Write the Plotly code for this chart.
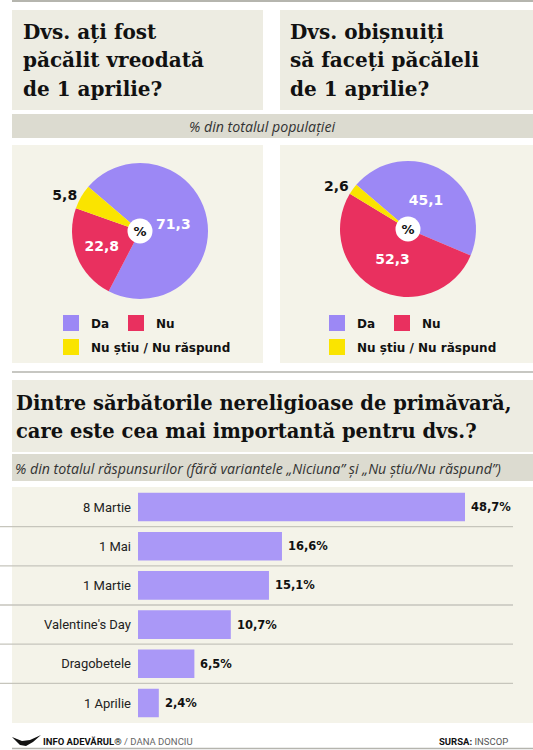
import plotly.graph_objects as go

W, H = 533, 750

# ---------------- data ----------------
pie_labels = ["Da", "Nu", "Nu știu / Nu răspund"]
pie_colors = ["#9c88f5", "#e9305f", "#fae400"]
pie1_values = [71.3, 22.8, 5.8]
pie2_values = [45.1, 52.3, 2.6]
pie1_title = ["Dvs. ați fost", "păcălit vreodată", "de 1 aprilie?"]
pie2_title = ["Dvs. obișnuiți", "să faceți păcăleli", "de 1 aprilie?"]
pie_band_text = "% din totalul populației"

bar_categories = ["8 Martie", "1 Mai", "1 Martie", "Valentine's Day", "Dragobetele", "1 Aprilie"]
bar_values = [48.7, 16.6, 15.1, 10.7, 6.5, 2.4]
bar_title = ["Dintre sărbătorile nereligioase de primăvară,",
             "care este cea mai importantă pentru dvs.?"]
bar_subtitle = "% din totalul răspunsurilor (fără variantele „Niciuna” și „Nu știu/Nu răspund”)"
footer_left = ("INFO ADEVĂRUL®", "/ DANA DONCIU")
footer_right = ("SURSA:", "INSCOP")


# ---------------- helpers ----------------
def px(x):
    return x / W


def py(y):
    return 1 - y / H


def fmt(v):
    return f"{v:.1f}".replace(".", ",")


TITLE_FONT = dict(family="DejaVu Serif", size=20, color="#111111", weight="bold")
BAR_TITLE_FONT = dict(family="DejaVu Serif", size=19.5, color="#111111", weight="bold")
BOLD_SANS = "DejaVu Sans"
ITALIC_FONT = dict(family="Open Sans", size=14.2, color="#333333", style="italic")

fig = go.Figure()

# ---------------- pies ----------------
R = 68
CR = 12.5
pies = [(pie1_values, 140, 231), (pie2_values, 408, 229)]
for values, cx, cy in pies:
    fig.add_trace(go.Pie(
        labels=pie_labels, values=values, sort=False,
        direction="clockwise", rotation=-49.5,
        marker=dict(colors=pie_colors, line=dict(width=0)),
        text=[fmt(v) for v in values], texttemplate="%{text}",
        textposition=["inside", "inside", "outside"],
        insidetextorientation="horizontal",
        insidetextfont=dict(family=BOLD_SANS, size=14, color="white", weight="bold"),
        outsidetextfont=dict(family=BOLD_SANS, size=14, color="#111111", weight="bold"),
        domain=dict(x=[px(cx - R), px(cx + R)], y=[py(cy + R), py(cy - R)]),
        showlegend=False, hoverinfo="skip",
    ))
    fig.add_trace(go.Pie(
        labels=["%"], values=[1], sort=False,
        marker=dict(colors=["white"], line=dict(width=0)),
        text=["%"], texttemplate="%{text}", textposition="inside",
        insidetextfont=dict(family=BOLD_SANS, size=13, color="#111111", weight="bold"),
        domain=dict(x=[px(cx - CR), px(cx + CR)], y=[py(cy + CR), py(cy - CR)]),
        showlegend=False, hoverinfo="skip",
    ))

# legend entries (one legend per legend row)
legend_ids = [("legend", "legend", "legend2"), ("legend3", "legend3", "legend4")]
for ids in legend_ids:
    for lab, col, lg in zip(pie_labels, pie_colors, ids):
        fig.add_trace(go.Scatter(
            x=[None], y=[None], mode="markers", name=lab,
            marker=dict(symbol="square", size=16, color=col),
            legend=lg, hoverinfo="skip", xaxis="x", yaxis="y",
        ))

# ---------------- bars ----------------
XMAX = 37.7
fig.add_trace(go.Bar(
    x=bar_values, y=bar_categories, orientation="h",
    marker=dict(color="#aa98f7", line=dict(width=0)),
    width=0.73, showlegend=False, hoverinfo="skip",
    xaxis="x", yaxis="y",
))

# ---------------- decoration ----------------
shapes = []


def rect(x0, y0, x1, y1, color):
    shapes.append(dict(type="rect", xref="paper", yref="paper",
                       x0=px(x0), x1=px(x1), y0=py(y1), y1=py(y0),
                       fillcolor=color, line=dict(width=0), layer="below"))


def hline(x0, x1, y, color, width):
    shapes.append(dict(type="line", xref="paper", yref="paper",
                       x0=px(x0), x1=px(x1), y0=py(y), y1=py(y),
                       line=dict(color=color, width=width), layer="below"))


TITLE_BG = "#edece2"
BAND_BG = "#dcdbd0"
PANEL_BG = "#f4f3e9"

hline(12, 533, 1, "#b5b5ae", 2)
rect(12, 10, 263, 110, TITLE_BG)
rect(280, 10, 533, 110, TITLE_BG)
rect(12, 114, 533, 138, BAND_BG)
rect(12, 145, 263, 363, PANEL_BG)
rect(280, 145, 533, 363, PANEL_BG)
hline(12, 533, 372, "#b5b5ae", 1.5)
rect(12, 380, 533, 452, TITLE_BG)
rect(12, 454, 533, 481, BAND_BG)
rect(12, 487, 533, 723, PANEL_BG)
hline(12, 533, 748.5, "#b5b5ae", 1.5)

# row separators between categories
for i in range(len(bar_categories) - 1):
    shapes.append(dict(type="line", xref="paper", yref="y",
                       x0=0, x1=px(513), y0=i + 0.5, y1=i + 0.5,
                       line=dict(color="#c6c5bc", width=1.3), layer="below"))

# small bird logo in the footer
logo = [(12, 737), (22, 741), (30, 740), (41, 735), (33, 742), (26, 746), (20, 745)]
path = "M" + " L".join(f"{px(a):.5f},{py(b):.5f}" for a, b in logo) + " Z"
shapes.append(dict(type="path", xref="paper", yref="paper", path=path,
                   fillcolor="#111111", line=dict(width=0)))

annotations = []


def ann(x, y, text, font, xanchor="left", **kw):
    d = dict(x=px(x), y=py(y), xref="paper", yref="paper", text=text,
             showarrow=False, xanchor=xanchor, yanchor="middle", font=font)
    d.update(kw)
    annotations.append(d)


for i, line in enumerate(pie1_title):
    ann(21, 32 + 28.3 * i, line, TITLE_FONT)
for i, line in enumerate(pie2_title):
    ann(288, 32 + 28.3 * i, line, TITLE_FONT)
ann(262, 126, pie_band_text, ITALIC_FONT, xanchor="center")

for i, line in enumerate(bar_title):
    ann(14, 403 + 29 * i, line, BAR_TITLE_FONT)
ann(13, 468, bar_subtitle, ITALIC_FONT)

# bar value labels
for cat, v in zip(bar_categories, bar_values):
    annotations.append(dict(
        x=min(v, XMAX), y=cat, xref="x", yref="y", text=f"{fmt(v)}%",
        showarrow=False, xanchor="left", yanchor="middle", xshift=4,
        font=dict(family=BOLD_SANS, size=11.5, color="#111111", weight="bold"),
    ))

ann(41, 741, f"<b>{footer_left[0]}</b> <span style='color:#666666'>{footer_left[1]}</span>",
    dict(family="Roboto", size=9.5, color="#111111"))
ann(510, 741, f"<b>{footer_right[0]}</b> <span style='color:#555555'>{footer_right[1]}</span>",
    dict(family="Roboto", size=9.5, color="#111111"), xanchor="right")

leg_common = dict(
    orientation="h", bgcolor="rgba(0,0,0,0)", borderwidth=0,
    font=dict(family=BOLD_SANS, size=12, color="#111111", weight="bold"),
    xanchor="left", yanchor="middle", itemwidth=30,
    itemclick=False, itemdoubleclick=False,
)

fig.update_layout(
    width=W, height=H,
    margin=dict(l=0, r=0, t=0, b=0),
    paper_bgcolor="white", plot_bgcolor="rgba(0,0,0,0)",
    shapes=shapes, annotations=annotations,
    xaxis=dict(domain=[px(138), px(465)], range=[0, XMAX], visible=False,
               fixedrange=True),
    yaxis=dict(domain=[py(722.6), py(487.4)], type="category",
               categoryorder="array", categoryarray=bar_categories,
               autorange="reversed", showgrid=False, zeroline=False,
               showline=False, ticks="", ticklabelstandoff=6,
               tickfont=dict(family="Roboto", size=13, color="#222222"),
               fixedrange=True),
    legend=dict(x=px(51), y=py(323), entrywidth=20, **leg_common),
    legend2=dict(x=px(51), y=py(347), **leg_common),
    legend3=dict(x=px(317), y=py(323), entrywidth=20, **leg_common),
    legend4=dict(x=px(317), y=py(347), **leg_common),
    showlegend=True,
)

fig.write_html("out.html", config=dict(displayModeBar=False, staticPlot=True),
               post_script="document.body.style.margin='0';")
